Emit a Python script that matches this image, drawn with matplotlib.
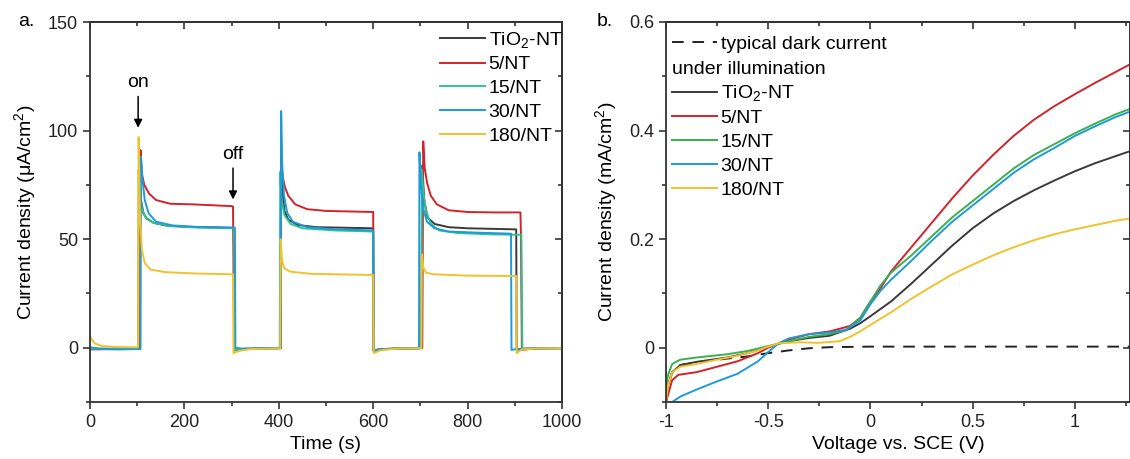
import matplotlib
matplotlib.use("Agg")
import matplotlib.pyplot as plt
from matplotlib.lines import Line2D
from matplotlib.ticker import MultipleLocator

plt.rcParams['font.family'] = ['Liberation Sans', 'DejaVu Sans']
plt.rcParams['mathtext.default'] = 'regular'

# ---- panel a: transient photocurrent (time s, current uA/cm2) ----
tio2_t = [(0, -0.5), (50, -0.5), (100, -0.3), (104, -0.3), (105, 82), (108, 68), (113, 62),
          (120, 59.5), (135, 57.5), (160, 56.3), (200, 55.7), (300, 55.2), (305, 55), (306, -1.2),
          (320, -0.8), (360, -0.3), (404, -0.2), (405, 94), (407, 73), (412, 63), (420, 59),
          (440, 56.5), (480, 55.5), (600, 55), (601, -1.5), (610, -0.8), (650, -0.3), (700, -0.2),
          (702, -0.2), (704, 84), (708, 68), (715, 60), (730, 57), (760, 55.5), (800, 55),
          (903, 54.5), (904, -1), (915, -0.5), (960, -0.2), (1000, -0.2)]
nt5_t = [(0, -0.8), (60, -0.6), (103, -0.5), (105, 60), (107, 91), (110, 80), (115, 75), (125, 71),
         (140, 68), (170, 66.3), (220, 66), (300, 65.2), (303, 65), (304, 35), (306, -1),
         (320, -0.6), (360, -0.3), (404, -0.2), (405, 86), (408, 79), (413, 74), (420, 70),
         (435, 66), (460, 63.8), (500, 63), (600, 62.5), (601, -1.5), (620, -0.6), (700, -0.2),
         (704, -0.2), (706, 95), (709, 83), (714, 76), (722, 70), (735, 66), (760, 63.3), (800, 62.5),
         (860, 62.3), (912, 62.3), (913, 52), (915, -1), (940, -0.4), (1000, -0.2)]
nt15_t = [(0, -0.5), (60, -0.4), (102, -0.3), (103, 82), (106, 70), (110, 64), (118, 60),
          (135, 57.5), (170, 56), (230, 55.3), (305, 55), (307, -1), (330, -0.5), (402, -0.2),
          (403, 81), (406, 68), (412, 61), (425, 57), (450, 55), (520, 54), (600, 53.5),
          (601, -1.5), (630, -0.6), (702, -0.2), (703, 82), (706, 72), (712, 63), (722, 57),
          (740, 54), (780, 52.8), (850, 52.2), (914, 52), (916, -0.5), (950, -0.3), (1000, -0.2)]
nt30_t = [(0, 0.2), (20, -0.5), (60, -0.8), (107, -0.6), (108, 88), (111, 78), (116, 68),
          (124, 62), (140, 58), (175, 56.3), (230, 55.6), (307, 55.3), (308, 0), (320, -0.4),
          (360, -0.3), (404, -0.2), (405, 109), (407, 85), (411, 70), (418, 62), (430, 58),
          (460, 55.5), (520, 54.5), (600, 54), (601, -1.5), (620, -0.6), (697, -0.3), (698, 90),
          (701, 75), (706, 64), (714, 58), (730, 55), (760, 53.5), (820, 53), (892, 52.5),
          (893, -1), (905, -0.6), (950, -0.3), (1000, -0.3)]
nt180_t = [(0, 5.5), (3, 4), (10, 2), (25, 0.8), (60, 0.3), (102, 0.2), (103, 97), (106, 60),
           (110, 45), (116, 39), (128, 36), (160, 34.8), (220, 34.2), (303, 33.8), (304, -2.5),
           (315, -1.5), (340, -0.6), (403, -0.3), (404, 50), (407, 40), (412, 36.5), (425, 35),
           (470, 34), (600, 33.5), (601, -2.5), (615, -1.2), (650, -0.4), (702, -0.2), (703, 43),
           (706, 37), (712, 34.5), (730, 33.8), (800, 33.2), (903, 33), (904, -2.5), (915, -0.8),
           (950, -0.3), (1000, -0.2)]

# ---- panel b: LSV (V vs SCE, mA/cm2) ----
dark_v = [(-1, -0.1), (-0.99, -0.07), (-0.97, -0.045), (-0.93, -0.032), (-0.85, -0.027),
          (-0.7, -0.02), (-0.6, -0.016), (-0.5, -0.01), (-0.4, -0.005), (-0.3, -0.001),
          (-0.2, 0.001), (0, 0.002), (0.5, 0.002), (1.0, 0.002), (1.27, 0.002)]
tio2_v = [(-1.0, -0.1), (-0.99, -0.07), (-0.97, -0.045), (-0.93, -0.032), (-0.85, -0.026),
          (-0.7, -0.018), (-0.6, -0.01), (-0.5, 0.002), (-0.4, 0.012), (-0.3, 0.018), (-0.2, 0.022),
          (-0.1, 0.035), (-0.05, 0.045), (0, 0.058), (0.1, 0.085), (0.2, 0.118), (0.3, 0.153),
          (0.4, 0.188), (0.5, 0.22), (0.6, 0.247), (0.7, 0.27), (0.8, 0.29), (0.9, 0.308),
          (1.0, 0.325), (1.1, 0.34), (1.2, 0.353), (1.27, 0.362)]
nt5_v = [(-1, -0.1), (-0.985, -0.08), (-0.97, -0.06), (-0.94, -0.05), (-0.85, -0.045),
         (-0.75, -0.035), (-0.65, -0.025), (-0.55, -0.01), (-0.5, 0.0), (-0.4, 0.015),
         (-0.3, 0.025), (-0.2, 0.03), (-0.1, 0.04), (-0.05, 0.055), (0, 0.085), (0.05, 0.11),
         (0.1, 0.14), (0.2, 0.185), (0.3, 0.23), (0.4, 0.275), (0.5, 0.317), (0.6, 0.355),
         (0.7, 0.39), (0.8, 0.42), (0.9, 0.445), (1.0, 0.467), (1.1, 0.488), (1.2, 0.508),
         (1.27, 0.522)]
nt15_v = [(-1, -0.075), (-0.99, -0.05), (-0.97, -0.03), (-0.93, -0.022), (-0.85, -0.018),
          (-0.7, -0.012), (-0.6, -0.006), (-0.5, 0.003), (-0.4, 0.012), (-0.3, 0.02),
          (-0.2, 0.025), (-0.12, 0.032), (-0.05, 0.055), (0, 0.085), (0.05, 0.115), (0.1, 0.138),
          (0.2, 0.17), (0.3, 0.205), (0.4, 0.24), (0.5, 0.27), (0.6, 0.3), (0.7, 0.33),
          (0.8, 0.355), (0.9, 0.375), (1.0, 0.395), (1.1, 0.413), (1.2, 0.43), (1.27, 0.44)]
nt30_v = [(-0.97, -0.1), (-0.93, -0.09), (-0.85, -0.077), (-0.75, -0.062), (-0.65, -0.048),
          (-0.55, -0.025), (-0.5, -0.008), (-0.45, 0.008), (-0.4, 0.017), (-0.3, 0.025),
          (-0.2, 0.028), (-0.12, 0.033), (-0.05, 0.05), (0, 0.08), (0.05, 0.105), (0.1, 0.125),
          (0.2, 0.16), (0.3, 0.197), (0.4, 0.232), (0.5, 0.262), (0.6, 0.292), (0.7, 0.322),
          (0.8, 0.347), (0.9, 0.368), (1.0, 0.39), (1.1, 0.408), (1.2, 0.425), (1.27, 0.435)]
nt180_v = [(-1, -0.1), (-0.99, -0.07), (-0.97, -0.045), (-0.93, -0.035), (-0.85, -0.03),
           (-0.75, -0.022), (-0.65, -0.015), (-0.55, -0.005), (-0.5, 0.002), (-0.45, 0.008),
           (-0.35, 0.01), (-0.25, 0.009), (-0.15, 0.012), (-0.1, 0.02), (-0.05, 0.03), (0, 0.042),
           (0.1, 0.065), (0.2, 0.09), (0.3, 0.113), (0.4, 0.135), (0.5, 0.153), (0.6, 0.17),
           (0.7, 0.185), (0.8, 0.198), (0.9, 0.209), (1.0, 0.218), (1.1, 0.226), (1.2, 0.234),
           (1.27, 0.238)]

labels = ['TiO$_2$-NT', '5/NT', '15/NT', '30/NT', '180/NT']
colors_a = ['#3a3a3a', '#d2232a', '#2ec48f', '#1e9ad8', '#f2c12e']
colors_b = ['#3a3a3a', '#d2232a', '#3bb04f', '#1e9ad8', '#f2c12e']

FS = 14
TICKFS = 13
SPINE = '#333333'
DASH = (0, (6, 4.5))


def style_axes(ax, xmaj, xmin, ymaj, ymin):
    for s in ax.spines.values():
        s.set_linewidth(1.3)
        s.set_color(SPINE)
    ax.xaxis.set_major_locator(MultipleLocator(xmaj))
    ax.xaxis.set_minor_locator(MultipleLocator(xmin))
    ax.yaxis.set_major_locator(MultipleLocator(ymaj))
    ax.yaxis.set_minor_locator(MultipleLocator(ymin))
    ax.tick_params(which='both', direction='out', width=1.2, color=SPINE,
                   labelsize=TICKFS, labelcolor='#222222')
    ax.tick_params(which='major', length=5)
    ax.tick_params(which='minor', length=3)
    # mirrored ticks pointing inward
    top = ax.secondary_xaxis('top')
    top.xaxis.set_major_locator(MultipleLocator(xmaj))
    top.xaxis.set_minor_locator(MultipleLocator(xmin))
    top.tick_params(which='both', direction='in', labeltop=False, width=1.2, color=SPINE)
    top.tick_params(which='major', length=5)
    top.tick_params(which='minor', length=3)
    right = ax.secondary_yaxis('right')
    right.yaxis.set_major_locator(MultipleLocator(ymaj))
    right.yaxis.set_minor_locator(MultipleLocator(ymin))
    right.tick_params(which='both', direction='in', labelright=False, width=1.2, color=SPINE)
    right.tick_params(which='major', length=5)
    right.tick_params(which='minor', length=3)
    for sa in (top, right):
        for s in sa.spines.values():
            s.set_linewidth(1.3)
            s.set_color(SPINE)


fig = plt.figure(figsize=(11.3, 4.59), dpi=100)
ax1 = fig.add_axes([90 / 1130, 57 / 459, 472 / 1130, 380 / 459])
ax2 = fig.add_axes([666 / 1130, 57 / 459, 464 / 1130, 380 / 459])

# panel a
for data, lab, c in zip([tio2_t, nt5_t, nt15_t, nt30_t, nt180_t], labels, colors_a):
    ax1.plot([p[0] for p in data], [p[1] for p in data], color=c, lw=1.4, label=lab)
ax1.set_xlim(0, 1000)
ax1.set_ylim(-25, 150)
style_axes(ax1, 200, 100, 50, 25)
ax1.set_xlabel('Time (s)', fontsize=FS, labelpad=4)
ax1.set_ylabel('Current density (μA/cm$^2$)', fontsize=FS, labelpad=7)
ax1.legend(loc='upper left', bbox_to_anchor=(0.7415, 0.98), frameon=False, fontsize=FS,
           handlelength=2.3, handletextpad=0.2, labelspacing=0.32, borderpad=0,
           borderaxespad=0)
ax1.annotate('', xy=(102, 100), xytext=(102, 117),
             arrowprops=dict(arrowstyle='-|>', color='black', lw=1.1, mutation_scale=12))
ax1.text(102, 118, 'on', ha='center', va='bottom', fontsize=FS)
ax1.annotate('', xy=(303, 67), xytext=(303, 84),
             arrowprops=dict(arrowstyle='-|>', color='black', lw=1.1, mutation_scale=12))
ax1.text(303, 85, 'off', ha='center', va='bottom', fontsize=FS)

# panel b
ax2.plot([p[0] for p in dark_v], [p[1] for p in dark_v], color='#222222', lw=1.4, ls=DASH)
for data, lab, c in zip([tio2_v, nt5_v, nt15_v, nt30_v, nt180_v], labels, colors_b):
    ax2.plot([p[0] for p in data], [p[1] for p in data], color=c, lw=1.4)
ax2.set_xlim(-1, 1.27)
ax2.set_ylim(-0.1, 0.6)
style_axes(ax2, 0.5, 0.25, 0.2, 0.1)
ax2.xaxis.set_major_formatter(plt.FuncFormatter(lambda v, p: '%g' % v))
ax2.yaxis.set_major_formatter(plt.FuncFormatter(lambda v, p: '%g' % v))
ax2.set_xlabel('Voltage vs. SCE (V)', fontsize=FS, labelpad=4)
ax2.set_ylabel('Current density (mA/cm$^2$)', fontsize=FS, labelpad=7)

handles = [Line2D([], [], color='#222222', lw=1.4, ls=DASH),
           Line2D([], [], color='none')]
handles += [Line2D([], [], color=c, lw=1.4) for c in colors_b]
leg_labels = ['typical dark current', ' '] + labels
ax2.legend(handles, leg_labels, loc='upper left', bbox_to_anchor=(0.013, 0.964),
           frameon=False, fontsize=FS, handlelength=2.3, handletextpad=0.2,
           labelspacing=0.32, borderpad=0, borderaxespad=0)
ax2.text(0.013, 0.874, 'under illumination', transform=ax2.transAxes, fontsize=FS,
         ha='left', va='center')

fig.text(18 / 1130, 1 - 22 / 459, 'a.', fontsize=FS, ha='left', va='center')
fig.text(597 / 1130, 1 - 22 / 459, 'b.', fontsize=FS, ha='left', va='center')

fig.savefig('out.png', dpi=100)
